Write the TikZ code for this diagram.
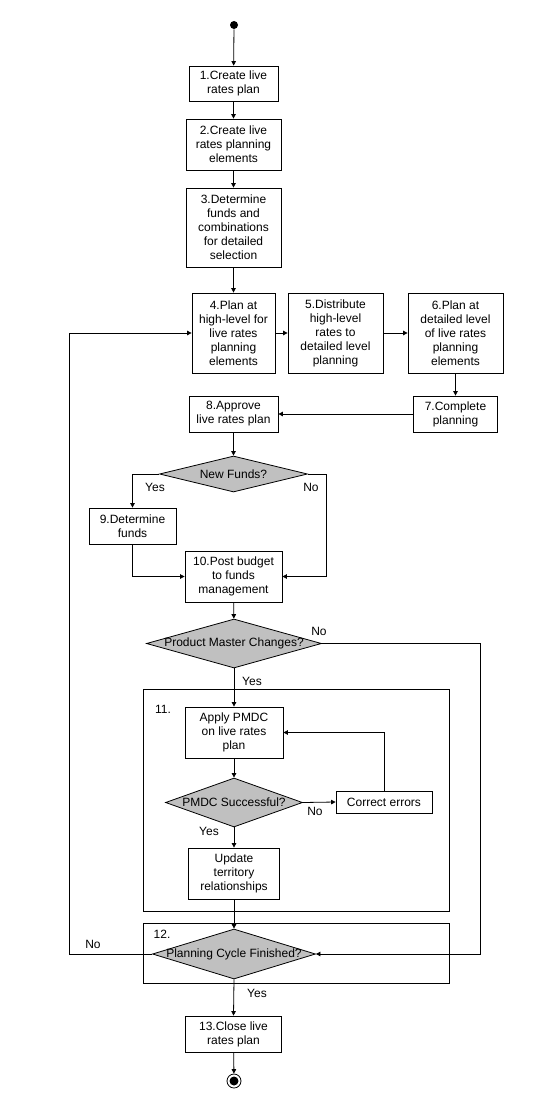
\documentclass[tikz,border=0pt]{standalone}
\usepackage{fontspec}
\setmainfont{Liberation Sans}
\usetikzlibrary{arrows.meta,shapes.geometric}
\definecolor{decgray}{RGB}{192,192,192}

\begin{document}
\begin{tikzpicture}[x=1pt,y=-1pt,line width=0.8pt,
  font=\fontsize{12}{14}\selectfont,
  >={Triangle[length=4.5pt,width=4.5pt]},
  task/.style={draw,align=center,inner sep=0pt},
  decision/.style={draw,diamond,fill=decgray,inner sep=0pt},
  groupbox/.style={draw},
  startstate/.style={circle,fill,inner sep=0pt,minimum size=8pt},
  endstate/.style={circle,draw,inner sep=0pt,minimum size=14pt,
    path picture={\fill (path picture bounding box.center) circle (4.5pt);}}]
  \useasboundingbox (0,0) rectangle (540,1116);
  \draw[groupbox] (143,689) rectangle (449,911);
  \draw[groupbox] (143,923) rectangle (449,983);
  \node at (163,709) {11.};
  \node at (162,934) {12.};
  \node[startstate] (start) at (234,25) {};
  \node[task,minimum width=89pt,minimum height=35pt] (create) at (233.5,83.5) {1.Create live\\rates plan};
  \node[task,minimum width=95pt,minimum height=51pt] (elems) at (233.5,144.5) {2.Create live\\rates planning\\elements};
  \node[task,minimum width=95pt,minimum height=79pt] (funds) at (233.5,227.5) {3.Determine\\funds and\\combinations\\for detailed\\selection};
  \node[task,minimum width=83pt,minimum height=80pt] (highlvl) at (233.5,333) {4.Plan at\\high-level for\\live rates\\planning\\elements};
  \node[task,minimum width=95pt,minimum height=80pt] (distrib) at (335.5,333) {5.Distribute\\high-level\\rates to\\detailed level\\planning};
  \node[task,minimum width=95pt,minimum height=80pt] (detlvl) at (455.5,333) {6.Plan at\\detailed level\\of live rates\\planning\\elements};
  \node[task,minimum width=84pt,minimum height=36pt] (complete) at (455.5,414) {7.Complete\\planning};
  \node[task,minimum width=89pt,minimum height=36pt] (approve) at (233.5,414) {8.Approve\\live rates plan};
  \node[decision,minimum width=148pt,minimum height=36pt,label=center:New Funds?] (newfunds) at (233.5,474) {};
  \node[task,minimum width=87pt,minimum height=36pt] (detfunds) at (132.5,526) {9.Determine\\funds};
  \node[task,minimum width=97pt,minimum height=51pt] (post) at (233.5,576.5) {10.Post budget\\to funds\\management};
  \node[decision,minimum width=175pt,minimum height=49pt,label=center:Product Master Changes?] (pmchg) at (234,643.5) {};
  \node[task,minimum width=98pt,minimum height=51pt] (apply) at (234,732.5) {Apply PMDC\\on live rates\\plan};
  \node[decision,minimum width=137pt,minimum height=49pt,label=center:PMDC Successful?] (pmdcok) at (234,802.5) {};
  \node[task,minimum width=96pt,minimum height=22pt] (correct) at (384,802) {Correct errors};
  \node[task,minimum width=91pt,minimum height=51pt] (update) at (234,873.5) {Update\\territory\\relationships};
  \node[decision,minimum width=163pt,minimum height=50pt,label=center:Planning Cycle Finished?] (cycle) at (234,954) {};
  \node[task,minimum width=96pt,minimum height=36pt] (close) at (233.5,1034) {13.Close live\\rates plan};
  \node[endstate] (stop) at (234,1081) {};

  \draw[->] (start) -- (create);
  \draw[->] (create) -- (elems);
  \draw[->] (elems) -- (funds);
  \draw[->] (funds) -- (highlvl);
  \draw[->] (highlvl) -- (distrib);
  \draw[->] (distrib) -- (detlvl);
  \draw[->] (detlvl.south) -- (complete.north);
  \draw[->] (complete) -- (approve);
  \draw[->] (approve) -- (newfunds);
  \draw[->] (newfunds.west) -| (detfunds.north);
  \node at (155,487) {Yes};
  \draw[->] (newfunds.east) -- ++(18,0) |- (post.east);
  \node at (311,487) {No};
  \draw[->] (detfunds.south) |- (post.west);
  \draw[->] (post) -- (pmchg);
  \draw[->] (pmchg.east) -- ++(158,0) |- (cycle.east);
  \node at (319,631) {No};
  \draw[->] (pmchg.south) -- (apply.north);
  \node at (252,681) {Yes};
  \draw[->] (apply) -- (pmdcok);
  \draw[->] (pmdcok.east) -- (correct.west);
  \node at (315,811) {No};
  \draw[->] (correct.north) |- (apply.east);
  \draw[->] (pmdcok.south) -- (update.north);
  \node at (209,831) {Yes};
  \draw[->] (update.south) -- (cycle.north);
  \draw[->] (cycle.west) -- ++(-83,0) |- (highlvl.west);
  \node at (93,944) {No};
  \draw[->] (cycle.south) -- (close.north);
  \node at (257,993) {Yes};
  \draw[->] (close) -- (stop);
\end{tikzpicture}
\end{document}
